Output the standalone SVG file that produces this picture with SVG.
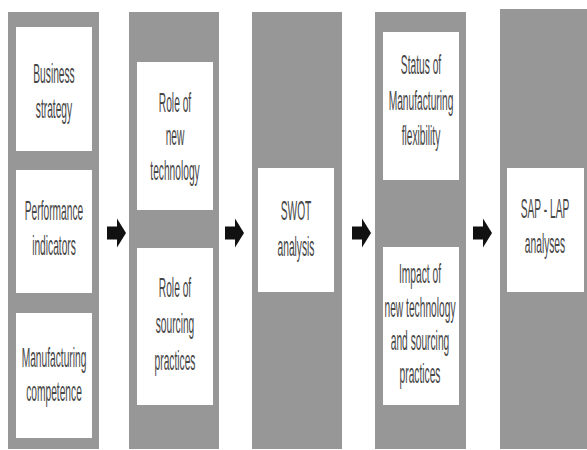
<svg xmlns="http://www.w3.org/2000/svg" xmlns:xlink="http://www.w3.org/1999/xlink" width="587" height="450" viewBox="0 0 587 450">
<style>
.col{fill:#979797}
.box{fill:#ffffff}
.t{font-family:"Liberation Sans",Arial,sans-serif;font-size:28px;fill:#474747;text-anchor:middle}
.arr{fill:#111111}
</style>
<defs>
<path id="blockArrow" d="M0,-6.5 H10 V-14.5 L19,0 L10,14.5 V6.5 H0 Z"/>
</defs>
<rect width="587" height="450" fill="#ffffff"/>
<g id="column1">
<rect class="col" x="8" y="12" width="91" height="437"/>
<g id="business-strategy">
<rect class="box" x="16" y="27" width="76" height="124"/>
<text class="t" transform="matrix(0.365 0 0 1 54 0)"><tspan x="0" y="83">Business</tspan><tspan x="0" y="118">strategy</tspan></text>
</g>
<g id="performance-indicators">
<rect class="box" x="16" y="170" width="76" height="123"/>
<text class="t" transform="matrix(0.365 0 0 1 54 0)"><tspan x="0" y="220">Performance</tspan><tspan x="0" y="255">indicators</tspan></text>
</g>
<g id="manufacturing-competence">
<rect class="box" x="16" y="313" width="76" height="125"/>
<text class="t" transform="matrix(0.365 0 0 1 54 0)"><tspan x="0" y="367">Manufacturing</tspan><tspan x="0" y="401">competence</tspan></text>
</g>
</g>
<g id="column2">
<rect class="col" x="129" y="12" width="90" height="437"/>
<g id="role-new-technology">
<rect class="box" x="137" y="62" width="76" height="148"/>
<text class="t" transform="matrix(0.365 0 0 1 175 0)"><tspan x="0" y="112">Role of</tspan><tspan x="0" y="145">new</tspan><tspan x="0" y="180">technology</tspan></text>
</g>
<g id="role-sourcing-practices">
<rect class="box" x="137" y="248" width="76" height="157"/>
<text class="t" transform="matrix(0.365 0 0 1 175 0)"><tspan x="0" y="297">Role of</tspan><tspan x="0" y="333">sourcing</tspan><tspan x="0" y="370">practices</tspan></text>
</g>
</g>
<g id="column3">
<rect class="col" x="252" y="12" width="90" height="437"/>
<g id="swot-analysis">
<rect class="box" x="258" y="168" width="76" height="124"/>
<text class="t" transform="matrix(0.365 0 0 1 296 0)"><tspan x="0" y="220">SWOT</tspan><tspan x="0" y="256">analysis</tspan></text>
</g>
</g>
<g id="column4">
<rect class="col" x="375" y="12" width="91" height="437"/>
<g id="status-flexibility">
<rect class="box" x="383" y="32" width="76" height="148"/>
<text class="t" transform="matrix(0.365 0 0 1 421 0)"><tspan x="0" y="74">Status of</tspan><tspan x="0" y="110">Manufacturing</tspan><tspan x="0" y="145">flexibility</tspan></text>
</g>
<g id="impact-technology-sourcing">
<rect class="box" x="383" y="247" width="76" height="158"/>
<text class="t" transform="matrix(0.365 0 0 1 420 0)"><tspan x="0" y="283">Impact of</tspan><tspan x="0" y="317">new technology</tspan><tspan x="0" y="350">and sourcing</tspan><tspan x="0" y="383">practices</tspan></text>
</g>
</g>
<g id="column5">
<rect class="col" x="500" y="9" width="87" height="440"/>
<g id="sap-lap-analyses">
<rect class="box" x="507" y="168" width="77" height="124"/>
<text class="t" transform="matrix(0.365 0 0 1 545 0)"><tspan x="0" y="218">SAP - LAP</tspan><tspan x="0" y="253">analyses</tspan></text>
</g>
</g>
<g id="connectors" class="arr">
<use xlink:href="#blockArrow" x="107" y="233"/>
<use xlink:href="#blockArrow" x="225" y="233"/>
<use xlink:href="#blockArrow" x="352" y="233"/>
<use xlink:href="#blockArrow" x="473" y="233"/>
</g>
</svg>
